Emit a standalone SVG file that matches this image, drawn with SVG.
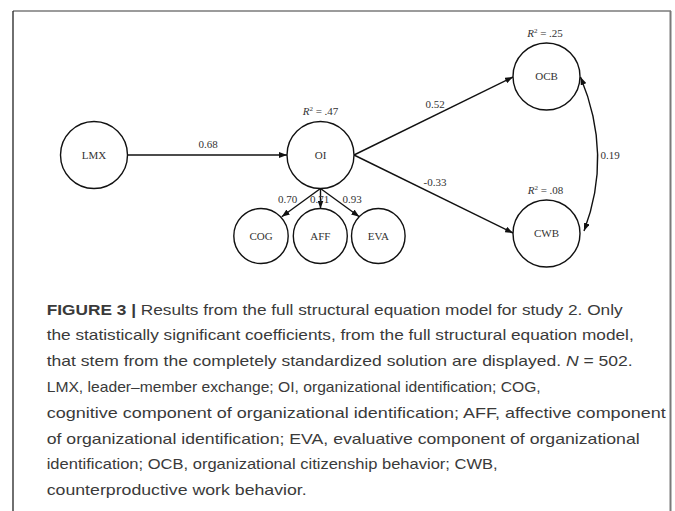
<svg xmlns="http://www.w3.org/2000/svg" width="675" height="511" viewBox="0 0 675 511">
<style>
.node ellipse{fill:#fff;stroke:#111;stroke-width:1.4}
.lbl{font-family:"Liberation Serif","Times New Roman",serif;font-size:11px;fill:#333;text-anchor:middle}
.edge{fill:none;stroke:#111;stroke-width:1.4}
.cap{font-family:"Liberation Sans",Arial,sans-serif;font-size:15px;fill:#3a3a3a}
</style>
<defs>
<marker id="ah" viewBox="0 0 8 6" refX="8" refY="3" markerWidth="8" markerHeight="6" markerUnits="userSpaceOnUse" orient="auto-start-reverse">
<path d="M0,0 L8,3 L0,6 z" fill="#111"/>
</marker>
</defs>
<rect width="675" height="511" fill="#fff"/>
<g id="frame">
<line x1="13" y1="11" x2="671" y2="11" stroke="#7a7a7a" stroke-width="1.5"/>
<line x1="670.5" y1="11" x2="670.5" y2="511" stroke="#7a7a7a" stroke-width="2"/>
<line x1="13" y1="11" x2="13" y2="511" stroke="#222" stroke-width="1.3"/>
</g>
<g id="connectors">
<path class="edge" d="M127.5,155 L287,155" marker-end="url(#ah)"/>
<path class="edge" d="M354,155 L513,77" marker-end="url(#ah)"/>
<path class="edge" d="M354,155 L513,233" marker-end="url(#ah)"/>
<path class="edge" d="M320.5,188.5 L281.7,216.7" marker-end="url(#ah)"/>
<path class="edge" d="M320.5,188.5 L320.5,208.5" marker-end="url(#ah)"/>
<path class="edge" d="M320.5,188.5 L359.3,216.7" marker-end="url(#ah)"/>
<path class="edge" d="M580.5,77 Q613,155 584,231" marker-start="url(#ah)" marker-end="url(#ah)"/>
<text class="lbl" x="208" y="148.3">0.68</text>
<text class="lbl" x="435" y="108">0.52</text>
<text class="lbl" x="435" y="185.5">-0.33</text>
<text class="lbl" x="287.5" y="202.7">0.70</text>
<text class="lbl" x="319.7" y="202.7">0.71</text>
<text class="lbl" x="352" y="202.7">0.93</text>
<text class="lbl" x="600.5" y="159" style="text-anchor:start">0.19</text>
</g>
<g id="LMX" class="node"><ellipse cx="94" cy="155" rx="33.5" ry="33.5"/><text class="lbl" x="94" y="158.5">LMX</text></g>
<g id="OI" class="node"><ellipse cx="320.5" cy="155" rx="33.5" ry="33.5"/><text class="lbl" x="320.5" y="158.5">OI</text>
<text class="lbl" x="320.5" y="115"><tspan font-style="italic">R</tspan><tspan dy="-4" font-size="7">2</tspan><tspan dy="4"> = .47</tspan></text></g>
<g id="OCB" class="node"><ellipse cx="546.5" cy="76.5" rx="33.5" ry="33.5"/><text class="lbl" x="546.5" y="80">OCB</text>
<text class="lbl" x="545" y="36.7"><tspan font-style="italic">R</tspan><tspan dy="-4" font-size="7">2</tspan><tspan dy="4"> = .25</tspan></text></g>
<g id="CWB" class="node"><ellipse cx="546.5" cy="233.5" rx="33.5" ry="33.5"/><text class="lbl" x="546.5" y="237">CWB</text>
<text class="lbl" x="545.5" y="194"><tspan font-style="italic">R</tspan><tspan dy="-4" font-size="7">2</tspan><tspan dy="4"> = .08</tspan></text></g>
<g id="COG" class="node"><ellipse cx="261" cy="236" rx="27.2" ry="27.5"/><text class="lbl" x="261" y="240">COG</text></g>
<g id="AFF" class="node"><ellipse cx="320.3" cy="236" rx="27" ry="27.5"/><text class="lbl" x="320.3" y="240">AFF</text></g>
<g id="EVA" class="node"><ellipse cx="378.3" cy="236" rx="26.8" ry="27.5"/><text class="lbl" x="378.3" y="240">EVA</text></g>
<g id="caption">
<text class="cap" x="46.7" y="314.5" textLength="576" lengthAdjust="spacingAndGlyphs"><tspan font-weight="bold">FIGURE 3 |</tspan> Results from the full structural equation model for study 2. Only</text>
<text class="cap" x="46.7" y="340.3" textLength="587" lengthAdjust="spacingAndGlyphs">the statistically significant coefficients, from the full structural equation model,</text>
<text class="cap" x="46.7" y="366.1" textLength="586" lengthAdjust="spacingAndGlyphs">that stem from the completely standardized solution are displayed. <tspan font-style="italic">N</tspan> = 502.</text>
<text class="cap" x="46.7" y="391.9" textLength="494" lengthAdjust="spacingAndGlyphs">LMX, leader–member exchange; OI, organizational identification; COG,</text>
<text class="cap" x="46.7" y="417.7" textLength="619" lengthAdjust="spacingAndGlyphs">cognitive component of organizational identification; AFF, affective component</text>
<text class="cap" x="46.7" y="443.5" textLength="593" lengthAdjust="spacingAndGlyphs">of organizational identification; EVA, evaluative component of organizational</text>
<text class="cap" x="46.7" y="469.3" textLength="451" lengthAdjust="spacingAndGlyphs">identification; OCB, organizational citizenship behavior; CWB,</text>
<text class="cap" x="46.7" y="495.1" textLength="260" lengthAdjust="spacingAndGlyphs">counterproductive work behavior.</text>
</g>
</svg>
